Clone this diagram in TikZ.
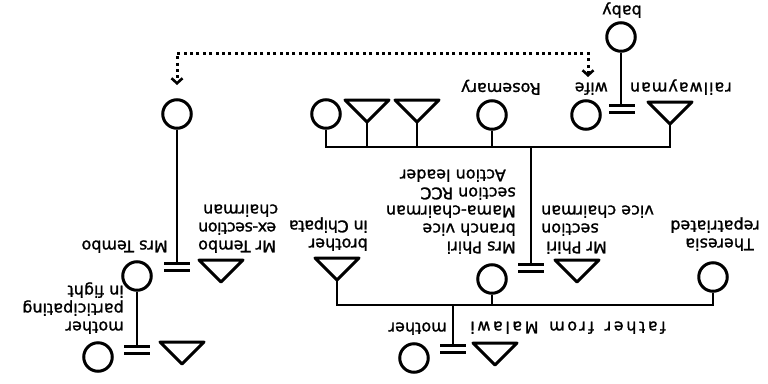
\documentclass[tikz,border=0pt]{standalone}
\usepackage{fontspec}
\setmainfont{DejaVu Sans}
\newfontfamily\lblfont{DejaVu Sans}[FakeBold=1.3]
\usetikzlibrary{arrows.meta}
\tikzset{
  fem/.style={circle, draw, line width=3pt, minimum size=28.5pt, inner sep=0pt},
  tri/.style={draw, line width=3pt, line join=round},
  bar/.style={line width=3pt},
  conn/.style={line width=2.1pt},
  dotconn/.style={line width=3pt, dash pattern=on 3pt off 3.4pt,
    >={Straight Barb[length=5pt,width=11pt,line width=2.6pt]}, <->},
  lbl/.style={rotate=180, inner sep=0pt, font=\lblfont\fontsize{16}{18}\selectfont, align=left, anchor=north west},
  lblr/.style={rotate=180, inner sep=0pt, font=\lblfont\fontsize{16}{18}\selectfont, align=right, anchor=north east},
}
\newcommand{\malesym}[3]{%
  \coordinate (#1) at (#2,#3+11);
  \coordinate (#1-apex) at (#2,#3+22);
  \draw[tri] (#2-22,#3) -- (#2+22,#3) -- (#1-apex) -- cycle;
}
\newcommand{\marsym}[3]{%
  \coordinate (#1) at (#2,#3);
  \coordinate (#1-top) at (#2,#3-5);
  \draw[bar] (#2-13,#3-3.5) -- (#2+13,#3-3.5);
  \draw[bar] (#2-13,#3+3.5) -- (#2+13,#3+3.5);
}
\begin{document}
\begin{tikzpicture}[x=1pt,y=-1pt]
\fill[white] (0,0) rectangle (768,383);
\path[use as bounding box] (0,0) rectangle (768,383);

% top generation (image top)
\node[fem] (baby) at (621,37) {};
\node[fem] (c1) at (326,114) {};
\malesym{t1}{367}{100}
\malesym{t2}{417}{100}
\node[fem] (rose) at (492,115) {};
\node[fem] (wife) at (586,115) {};
\marsym{mRw}{622}{109}
\malesym{rw}{670}{102}
\coordinate (s3) at (531,147);

% middle generation
\node[fem] (dT) at (177,114) {};
\node[fem] (mrsT) at (137,276) {};
\marsym{mT}{177}{267}
\malesym{mrT}{221}{260}
\malesym{bro}{337}{258}
\node[fem] (mrsP) at (492,279) {};
\marsym{mPh}{531}{268}
\malesym{mrP}{577}{260}
\node[fem] (ther) at (713,277) {};
\coordinate (s2) at (453,305);

% bottom generation
\node[fem] (gmT) at (98,357) {};
\marsym{mG}{137}{349.5}
\malesym{gfT}{182}{342}
\node[fem] (moth) at (414,358) {};
\marsym{mB}{453}{348.5}
\malesym{fath}{495}{343}

% connectors
\draw[conn] (c1.south) |- (rw-apex |- s3) -- (rw-apex);
\draw[conn] (t1-apex) -- (t1-apex |- s3);
\draw[conn] (t2-apex) -- (t2-apex |- s3);
\draw[conn] (rose.south) -- (rose.south |- s3);
\draw[conn] (baby.south) -- (baby.south |- mRw-top);
\draw[conn] (s3) -- (mPh-top);
\draw[conn] (dT.south) -- (mT-top);
\draw[conn] (bro-apex) |- (ther.south |- s2) -- (ther.south);
\draw[conn] (mrsP.south) -- (mrsP.south |- s2);
\draw[conn] (s2) -- (mB-top);
\draw[conn] (mrsT.south) -- (mG-top);

% dotted identity link
\coordinate (dR) at (588,77);
\coordinate (dL) at (177,85);
\coordinate (dtop) at (400,53);
\draw[dotconn] (dR) -- (dR |- dtop) -| (dL);

% labels (upside down)
\node[lbl] (lbaby) at (642,18) {baby};
\node[lbl] (lrose) at (541,95) {Rosemary};
\node[lbl] (lwife) at (608,95) {wife};
\node[lbl] (lrw) at (732,95) {\addfontfeature{LetterSpace=6}railwayman};
\node[lbl] (lmrsT) at (168,253) {Mrs Tembo};
\node[lblr] (lmrT) at (198,253) {Mr Tembo\\\addfontfeature{LetterSpace=-3}ex-section\\chairman\hspace*{5pt}};
\node[lbl] (lbro) at (368,251) {brother\\\addfontfeature{LetterSpace=-2}in Chipata};
\node[lbl] (lmrsP) at (516,254) {Mrs Phiri\\branch vice\\Mama-chairman\\section RCC\\\hspace*{10pt}Action leader};
\node[lblr] (lmrP) at (541,254) {Mr Phiri\hspace*{5pt}\\section\hspace*{30pt}\\vice chairman};
\node[lbl] (lther) at (760,251) {\hspace*{6pt}Theresia\\repatriated};
\node[lbl] (lgm) at (124,334) {mother\\participating\\in fight};
\node[lbl] (lmoth) at (447,335) {mother};
\node[lbl] (lfath) at (666,334) {\addfontfeature{LetterSpace=16}father\hspace{3pt} from\hspace{3pt} Malawi};
\end{tikzpicture}
\end{document}
